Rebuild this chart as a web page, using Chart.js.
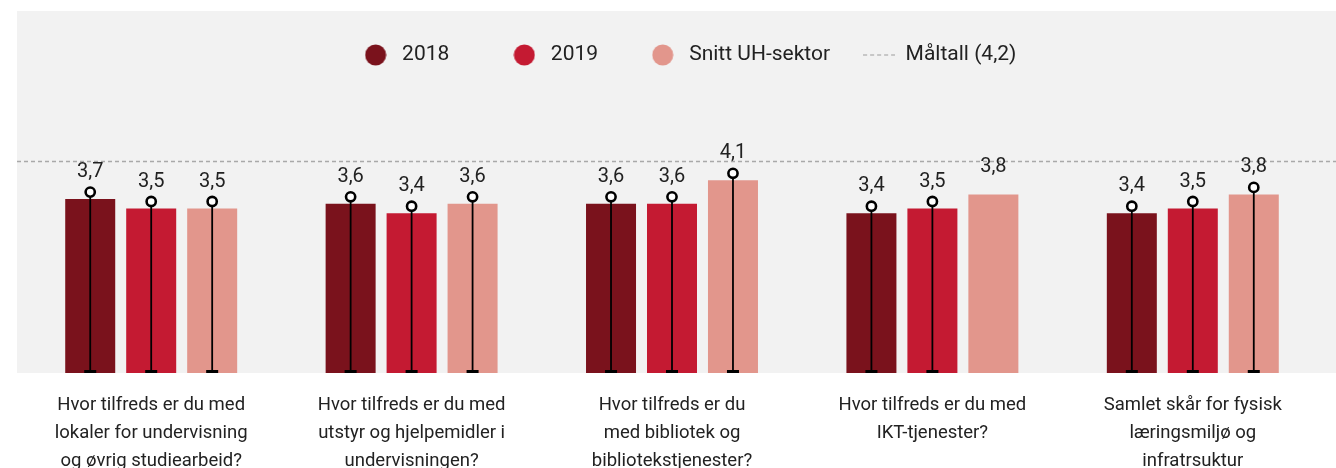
<!DOCTYPE html>
<html>
<head>
<meta charset="utf-8">
<script src="https://cdn.jsdelivr.net/npm/chart.js@4.4.1/dist/chart.umd.min.js"></script>
<style>
	html, body { margin: 0; padding: 0; background: #fff; }
	#wrap { width: 1336px; height: 468px; }
</style>
</head>
<body>
<div id="wrap"><canvas id="chart"></canvas></div>
<script>
// categories (multi-line tick labels)
const categories = [
	[ 'Hvor tilfreds er du med', 'lokaler for undervisning', 'og øvrig studiearbeid?' ],
	[ 'Hvor tilfreds er du med', 'utstyr og hjelpemidler i', 'undervisningen?' ],
	[ 'Hvor tilfreds er du', 'med bibliotek og', 'bibliotekstjenester?' ],
	[ 'Hvor tilfreds er du med', 'IKT-tjenester?' ],
	[ 'Samlet skår for fysisk', 'læringsmiljø og', 'infratrsuktur' ],
];

// series
const values2018 = [ 3.7, 3.6, 3.6, 3.4, 3.4 ];
const values2019 = [ 3.5, 3.4, 3.6, 3.5, 3.5 ];
const valuesSnitt = [ 3.5, 3.6, 4.1, 3.8, 3.8 ];

// which bars carry the whisker + circle marker
const marker2018 = [ true, true, true, true, true ];
const marker2019 = [ true, true, true, true, true ];
const markerSnitt = [ true, true, true, false, true ];

const targetValue = 4.2;

const colors = [ '#7a121c', '#c41a32', '#e2968c' ];
const textColor = '#222222';
const fontFamily = 'Roboto, "Noto Sans", sans-serif';

// norwegian decimal comma
const fmt = v => v.toFixed( 1 ).replace( '.', ',' );

function dotIcon( color ) {
	const c = document.createElement( 'canvas' );
	c.width = 22;
	c.height = 22;
	const g = c.getContext( '2d' );
	g.fillStyle = color;
	g.beginPath();
	g.arc( 11, 11, 10.5, 0, Math.PI * 2 );
	g.fill();
	return c;
}

function dashIcon() {
	const c = document.createElement( 'canvas' );
	c.width = 32;
	c.height = 2;
	const g = c.getContext( '2d' );
	g.fillStyle = '#9c9c9c';
	for ( let x = 0; x < 32; x += 7 ) {
		g.fillRect( x, 0.5, 4, 1 );
	}
	return c;
}

// grey panel behind the plot
const panelPlugin = {
	id: 'panel',
	beforeDraw( chart ) {
		const { ctx, chartArea } = chart;
		ctx.save();
		ctx.fillStyle = '#f2f2f2';
		ctx.fillRect( chartArea.left - 4, 11, chart.width, chartArea.bottom - 11 );
		ctx.restore();
	},
};

// nudge legend to the right like the original
const legendShift = {
	id: 'legendShift',
	afterLayout( chart ) {
		chart.legend.left += 16;
		chart.legend.right += 16;
	},
};

// dashed target line (Måltall)
const targetPlugin = {
	id: 'target',
	beforeDatasetsDraw( chart ) {
		const { ctx, chartArea } = chart;
		const y = Math.round( chart.scales.y2.getPixelForValue( targetValue ) ) + 0.5;
		ctx.save();
		ctx.strokeStyle = '#a9a9a9';
		ctx.lineWidth = 1.3;
		ctx.setLineDash( [ 4, 3 ] );
		ctx.beginPath();
		ctx.moveTo( chartArea.left - 4, y );
		ctx.lineTo( chart.width, y );
		ctx.stroke();
		ctx.restore();
	},
};

// whiskers, circle markers and value labels
const markerPlugin = {
	id: 'markers',
	afterDatasetsDraw( chart ) {
		const { ctx } = chart;
		const markers = [ marker2018, marker2019, markerSnitt ];
		ctx.save();
		chart.data.datasets.forEach( ( ds, i ) => {
			const meta = chart.getDatasetMeta( i );
			meta.data.forEach( ( bar, j ) => {
				const cx = bar.x;
				const top = bar.y - 7;
				if ( markers[ i ][ j ] ) {
					ctx.strokeStyle = '#000';
					ctx.lineWidth = 1.8;
					ctx.beginPath();
					ctx.moveTo( cx, bar.base );
					ctx.lineTo( cx, top );
					ctx.stroke();
					ctx.fillStyle = '#000';
					ctx.fillRect( cx - 6, bar.base - 3, 12, 3 );
					ctx.beginPath();
					ctx.arc( cx, top, 4.6, 0, Math.PI * 2 );
					ctx.fillStyle = '#ffffff';
					ctx.fill();
					ctx.lineWidth = 2.6;
					ctx.stroke();
				}
				ctx.fillStyle = textColor;
				ctx.font = `20px ${ fontFamily }`;
				ctx.textAlign = 'center';
				ctx.textBaseline = 'middle';
				ctx.fillText( fmt( ds.data[ j ] ), cx, top - 20 );
			} );
		} );
		ctx.restore();
	},
};

// extra spaces after legend texts to mimic the uneven item spacing
const legendGap = [ '     ', '   ', '' ];

new Chart( document.getElementById( 'chart' ), {
	type: 'bar',
	data: {
		labels: categories,
		datasets: [
			{ label: '2018', data: values2018, backgroundColor: colors[ 0 ] },
			{ label: '2019', data: values2019, backgroundColor: colors[ 1 ] },
			{ label: 'Snitt UH-sektor', data: valuesSnitt, backgroundColor: colors[ 2 ] },
		],
	},
	options: {
		responsive: true,
		maintainAspectRatio: false,
		animation: false,
		categoryPercentage: 0.7025,
		barPercentage: 0.82,
		layout: {
			padding: { left: 21, right: 13, top: 11.5, bottom: 0 },
		},
		plugins: {
			tooltip: { enabled: false },
			legend: {
				position: 'top',
				onClick: () => {},
				labels: {
					usePointStyle: true,
					pointStyleWidth: 32,
					padding: 33,
					color: textColor,
					font: { family: fontFamily, size: 21 },
					generateLabels: chart => {
						const items = chart.data.datasets.map( ( ds, i ) => ( {
							text: ds.label + legendGap[ i ],
							fillStyle: ds.backgroundColor,
							strokeStyle: ds.backgroundColor,
							lineWidth: 0,
							pointStyle: dotIcon( ds.backgroundColor ),
							fontColor: textColor,
							hidden: false,
							datasetIndex: i,
						} ) );
						items.push( {
							text: 'Måltall (' + fmt( targetValue ) + ')',
							lineWidth: 0,
							pointStyle: dashIcon(),
							fontColor: textColor,
							hidden: false,
						} );
						return items;
					},
				},
			},
		},
		scales: {
			x: {
				grid: { display: false, drawTicks: false },
				border: { display: false },
				ticks: {
					color: textColor,
					font: { family: fontFamily, size: 18.5, lineHeight: 1.49 },
					padding: 19,
					maxRotation: 0,
					autoSkip: false,
				},
				afterFit: scale => {
					scale.height = 95;
				},
			},
			y: { display: false, min: 0, max: 6.33 },
			y2: { display: false, min: 0, max: 5.89 },
		},
	},
	plugins: [ panelPlugin, legendShift, targetPlugin, markerPlugin ],
} );
</script>
</body>
</html>
